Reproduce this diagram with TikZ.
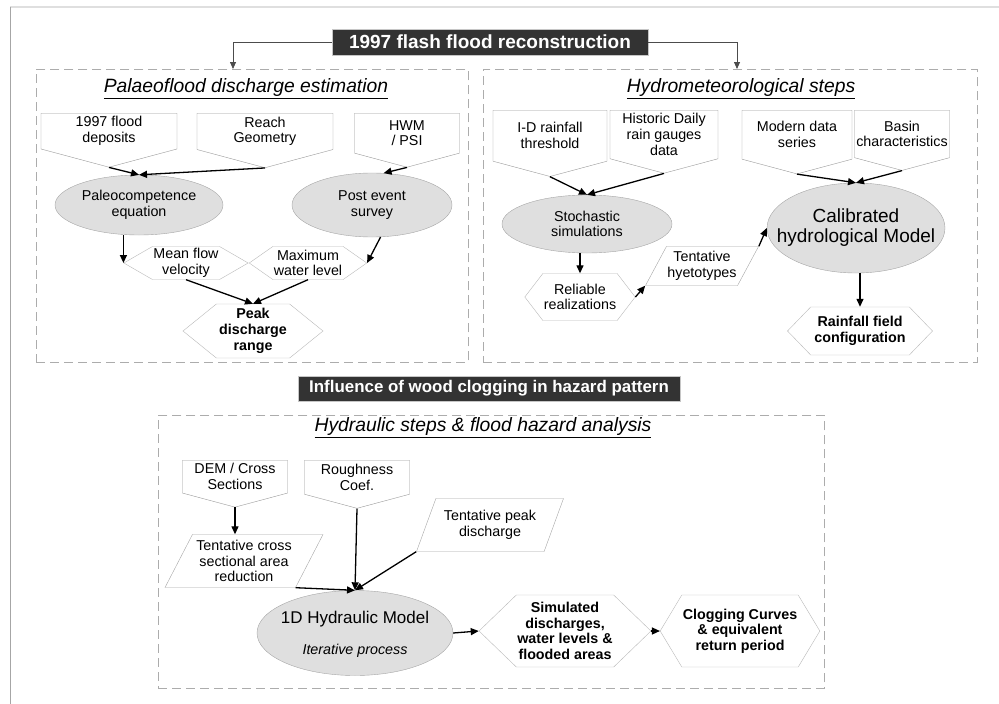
\documentclass[tikz,border=0pt]{standalone}
\usepackage{fontspec}
\setmainfont{Liberation Sans}
\usetikzlibrary{shapes.geometric,shapes.symbols,arrows.meta}
\tikzset{
  txt/.style={font=\fontsize{14.3}{15.7}\selectfont, align=center, inner sep=1pt},
  inbox/.style={txt, signal, signal to=south, signal from=nowhere,
    signal pointer angle=150, draw=gray!80, fill=white, anchor=north},
  proc/.style={txt, ellipse, draw=gray!70, fill=gray!25},
  hexa/.style={txt, signal, signal to=east and west, draw=gray!55, fill=white},
  outhexa/.style={hexa, font=\fontsize{14.3}{15.7}\selectfont\bfseries},
  para/.style={txt, trapezium, trapezium left angle=58, trapezium right angle=122,
    trapezium stretches body, draw=gray!70, fill=white},
  panel/.style={draw=gray!65, dash pattern=on 9pt off 5pt, line width=0.8pt, anchor=north west},
  banner/.style={fill=black!80, draw=gray!45, text=white, inner sep=0pt,
    font=\fontsize{19}{22}\selectfont\bfseries},
  ptitle/.style={font=\fontsize{19.3}{22}\selectfont\itshape},
  arr/.style={-{Triangle[length=8pt,width=7pt]}, line width=1.3pt},
  link/.style={-{Triangle[length=7pt,width=6pt]}, draw=black!70, line width=0.8pt}
}
\begin{document}
\begin{tikzpicture}[x=1pt,y=-1pt]
  \useasboundingbox (0,0) rectangle (999,704);
  \draw[gray!25, line width=1.2pt] (10,7) -- (999,7);
  \draw[gray!70, line width=1pt] (10,7) -- (10,704);

  \node[panel, minimum width=432, minimum height=293] (lpanel) at (36,69) {};
  \node[panel, minimum width=494, minimum height=293] (rpanel) at (483,69) {};
  \node[panel, minimum width=666, minimum height=273] (bpanel) at (158,415) {};

  \node[banner, minimum width=316, minimum height=26] (ban1) at (490,42) {1997 flash flood reconstruction};
  \node[banner, minimum width=382, minimum height=25, font=\fontsize{16.9}{20}\selectfont\bfseries] (ban2) at (489,388.5) {Influence of wood clogging in hazard pattern};
  \coordinate (lin) at (233,69);
  \coordinate (rin) at (737,69);
  \draw[link] (ban1.west) -| (lin);
  \draw[link] (ban1.east) -| (rin);

  \node[ptitle] (ltitle) at (246,89) {\underline{Palaeoflood discharge estimation}};
  \node[ptitle] (rtitle) at (741,89) {\underline{Hydrometeorological steps}};
  \node[ptitle] (btitle) at (483,428) {\underline{Hydraulic steps \& flood hazard analysis}};

  \node[inbox, minimum width=136, minimum height=45] (dep) at (109,113) {1997 flood\\deposits};
  \node[inbox, minimum width=136, minimum height=45] (reach) at (265,113) {Reach\\Geometry};
  \node[inbox, minimum width=105, minimum height=45] (hwm) at (407,113) {HWM\\/ PSI};
  \node[proc, minimum width=168, minimum height=60] (paleo) at (139,205) {Paleocompetence\\equation};
  \node[proc, minimum width=160, minimum height=64] (survey) at (372,205) {Post event\\survey};
  \node[hexa, signal pointer angle=60, minimum width=112, minimum height=33] (vel) at (186,263) {Mean flow\\velocity};
  \node[hexa, signal pointer angle=70, minimum width=110, minimum height=33] (lev) at (308,263) {Maximum\\water level};
  \node[outhexa, signal pointer angle=78, minimum width=140, minimum height=54] (peak) at (253,331) {Peak\\discharge\\range};
  \draw[arr] (dep.south) -- (paleo.north);
  \draw[arr] (reach.south) -- (paleo.north);
  \draw[arr] (hwm.south) -- (survey.70);
  \draw[arr] (paleo.south -| vel.west) -- (vel.west);
  \draw[arr] (survey.285) -- (lev.east);
  \draw[arr] (vel.south) -- (peak.north);
  \draw[arr] (lev.south) -- (peak.north);

  \node[inbox, minimum width=114, minimum height=60] (idr) at (550,110) {I-D rainfall\\threshold};
  \node[inbox, minimum width=108, minimum height=60] (hist) at (664,110) {Historic Daily\\rain gauges\\data};
  \node[inbox, minimum width=110, minimum height=60] (modern) at (797,110) {Modern data\\series};
  \node[inbox, minimum width=95, minimum height=60] (basin) at (902,110) {Basin\\characteristics};
  \node[proc, minimum width=170, minimum height=58] (stoch) at (587,224) {Stochastic\\simulations};
  \node[proc, minimum width=178, minimum height=90, inner xsep=-22pt, font=\fontsize{19}{20}\selectfont] (calib) at (856,228) {Calibrated\\hydrological Model};
  \node[hexa, signal pointer angle=105, minimum width=96, minimum height=47] (reli) at (580,297) {Reliable\\realizations};
  \node[para, trapezium left angle=56, trapezium right angle=124, minimum width=109, minimum height=39] (hyeto) at (702,266) {Tentative\\hyetotypes};
  \node[outhexa, signal pointer angle=92, minimum width=145, minimum height=48] (rain) at (860,331) {Rainfall field\\configuration};
  \draw[arr] (idr.south) -- (stoch.north);
  \draw[arr] (hist.south) -- (stoch.north);
  \draw[arr] (stoch.south -| reli.north) -- (reli.north);
  \draw[arr] (reli.east) -- (hyeto.bottom left corner);
  \draw[arr] (hyeto.top right corner) -- (calib.west);
  \draw[arr] (modern.south) -- (calib.north);
  \draw[arr] (basin.south) -- (calib.north);
  \draw[arr] (calib.south -| rain.north) -- (rain.north);

  \node[inbox, minimum width=105, minimum height=44] (dem) at (235,460) {DEM / Cross\\Sections};
  \node[inbox, minimum width=105, minimum height=44] (rough) at (357,460) {Roughness\\Coef.};
  \node[para, minimum width=158, minimum height=53] (xsec) at (244,561) {Tentative cross\\sectional area\\reduction};
  \node[para, minimum width=147, minimum height=53] (qpeak) at (490,525) {Tentative peak\\discharge};
  \node[proc, minimum width=196, minimum height=85] (hyd) at (355,633) {};
  \node[font=\fontsize{17}{20}\selectfont] (hydname) at (355,619) {1D Hydraulic Model};
  \node[font=\fontsize{14.3}{16}\selectfont\itshape] (iter) at (355,651) {Iterative process};
  \node[outhexa, signal pointer angle=88, minimum width=155, minimum height=72] (simu) at (565,631) {Simulated\\discharges,\\water levels \&\\flooded areas};
  \node[outhexa, signal pointer angle=118, minimum width=155, minimum height=72] (clog) at (740,631) {Clogging Curves\\\& equivalent\\return period};
  \draw[arr] (dem.south) -- (dem.south |- xsec.north);
  \draw[arr] (rough.south) -- (hyd.north);
  \draw[arr] (xsec.bottom right corner) -- (hyd.north);
  \draw[arr] (qpeak.bottom left corner) -- (hyd.north);
  \draw[arr] (hyd.east) -- (simu.west);
  \draw[arr] (simu.east) -- (clog.west);
\end{tikzpicture}
\end{document}
